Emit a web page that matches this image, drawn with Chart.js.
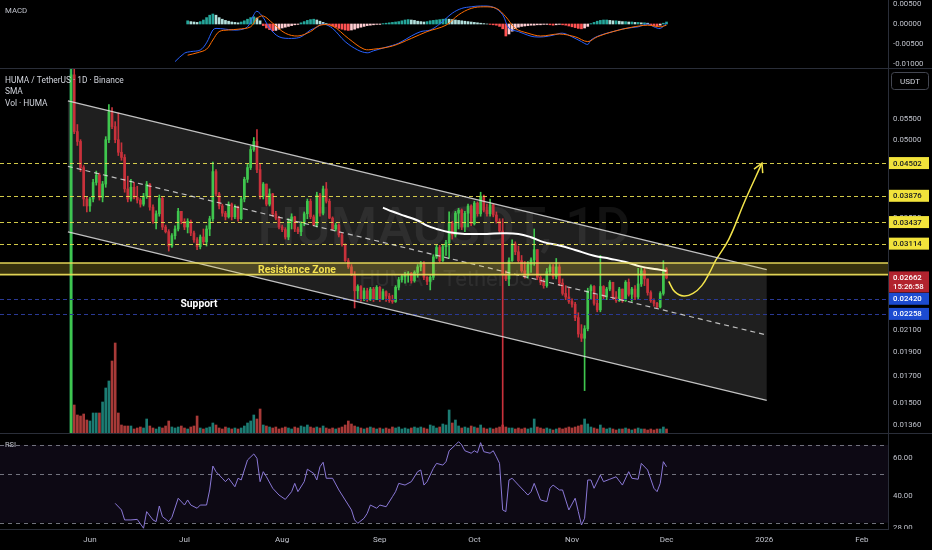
<!DOCTYPE html>
<html><head><meta charset="utf-8">
<script src="https://cdn.jsdelivr.net/npm/chart.js@4.4.1/dist/chart.umd.min.js"></script>
<style>
html,body{margin:0;padding:0;background:#000;width:932px;height:550px;overflow:hidden}
#wrap{position:relative;width:932px;height:550px;background:#000}
canvas{position:absolute;left:0}
.sep{position:absolute;left:0;width:932px;height:1px;background:#2a2e39}
</style></head><body>
<div id="wrap">
<canvas id="macd" style="top:0px" width="932" height="68"></canvas>
<div class="sep" style="top:68px"></div>
<canvas id="main" style="top:69px" width="932" height="364"></canvas>
<div class="sep" style="top:433px"></div>
<canvas id="rsi" style="top:434px" width="932" height="116"></canvas>
</div>
<script>
// ---------- DATA (day index 0 = 26 May 2025) ----------
const firstOpen = 0.0126;
const closes = [
0.0674,0.0520,0.0497,0.0441,0.0382,0.0370,0.0382,0.0412,0.0426,0.0385,
0.0409,0.0501,0.0569,0.0532,0.0501,0.0473,0.0462,0.0400,0.0382,0.0403,
0.0385,0.0380,0.0373,0.0387,0.0409,0.0368,0.0345,0.0357,0.0383,0.0336,
0.0329,0.0308,0.0323,0.0333,0.0361,0.0345,0.0336,0.0345,0.0327,0.0317,
0.0307,0.0321,0.0314,0.0333,0.0349,0.0433,0.0391,0.0370,0.0358,0.0352,
0.0373,0.0352,0.0368,0.0349,0.0382,0.0418,0.0441,0.0479,0.0497,0.0437,
0.0387,0.0409,0.0373,0.0391,0.0357,0.0350,0.0336,0.0332,0.0321,0.0345,
0.0352,0.0333,0.0329,0.0341,0.0357,0.0378,0.0352,0.0339,0.0389,0.0358,
0.0400,0.0378,0.0350,0.0333,0.0339,0.0324,0.0310,0.0288,0.0280,0.0270,
0.0251,0.0256,0.0242,0.0251,0.0241,0.0253,0.0241,0.0255,0.0242,0.0250,
0.0245,0.0240,0.0239,0.0255,0.0264,0.0268,0.0270,0.0272,0.0263,0.0273,
0.0280,0.0284,0.0267,0.0262,0.0267,0.0293,0.0306,0.0288,0.0307,0.0313,
0.0342,0.0324,0.0358,0.0363,0.0336,0.0358,0.0370,0.0341,0.0375,0.0357,
0.0387,0.0363,0.0357,0.0372,0.0355,0.0345,0.0330,0.0270,0.0265,0.0288,
0.0311,0.0300,0.0288,0.0275,0.0269,0.0283,0.0289,0.0303,0.0267,0.0261,
0.0257,0.0274,0.0280,0.0268,0.0280,0.0260,0.0248,0.0244,0.0239,0.0236,
0.0222,0.0206,0.0202,0.0211,0.0251,0.0256,0.0237,0.0230,0.0256,0.0244,
0.0253,0.0261,0.0244,0.0240,0.0253,0.0240,0.0261,0.0247,0.0253,0.0244,
0.0259,0.0275,0.0265,0.0249,0.0240,0.0237,0.0233,0.0248,0.0277,0.02662];
const highs = [
0.0850,0.0700,0.0537,0.0501,0.0445,0.0385,0.0385,0.0418,0.0434,0.0430,
0.0414,0.0508,0.0588,0.0580,0.0544,0.0566,0.0494,0.0468,0.0424,0.0418,
0.0412,0.0405,0.0383,0.0392,0.0414,0.0410,0.0372,0.0362,0.0389,0.0385,
0.0339,0.0332,0.0326,0.0338,0.0366,0.0361,0.0349,0.0349,0.0347,0.0330,
0.0320,0.0324,0.0333,0.0338,0.0353,0.0452,0.0437,0.0394,0.0373,0.0361,
0.0377,0.0375,0.0372,0.0370,0.0385,0.0422,0.0448,0.0486,0.0506,0.0525,
0.0448,0.0412,0.0409,0.0400,0.0392,0.0361,0.0353,0.0339,0.0335,0.0349,
0.0357,0.0353,0.0336,0.0344,0.0360,0.0382,0.0382,0.0355,0.0394,0.0392,
0.0405,0.0412,0.0382,0.0352,0.0342,0.0341,0.0327,0.0311,0.0291,0.0283,
0.0274,0.0258,0.0257,0.0254,0.0254,0.0255,0.0255,0.0257,0.0256,0.0253,
0.0251,0.0248,0.0246,0.0257,0.0267,0.0270,0.0273,0.0274,0.0273,0.0275,
0.0283,0.0287,0.0287,0.0268,0.0269,0.0296,0.0309,0.0309,0.0310,0.0316,
0.0360,0.0345,0.0361,0.0366,0.0365,0.0361,0.0373,0.0372,0.0378,0.0377,
0.0394,0.0389,0.0373,0.0382,0.0373,0.0360,0.0349,0.0349,0.0275,0.0292,
0.0317,0.0314,0.0308,0.0295,0.0287,0.0287,0.0292,0.0333,0.0303,0.0269,
0.0265,0.0278,0.0283,0.0283,0.0291,0.0283,0.0265,0.0257,0.0254,0.0242,
0.0238,0.0227,0.0215,0.0214,0.0254,0.0258,0.0257,0.0246,0.0295,0.0257,
0.0255,0.0263,0.0261,0.0250,0.0255,0.0253,0.0263,0.0265,0.0255,0.0257,
0.0278,0.0279,0.0279,0.0265,0.0251,0.0242,0.0238,0.0250,0.0288,0.0279];
const lows = [
0.0110,0.0515,0.0488,0.0433,0.0370,0.0360,0.0361,0.0377,0.0407,0.0380,
0.0377,0.0403,0.0494,0.0527,0.0494,0.0466,0.0456,0.0394,0.0377,0.0378,
0.0382,0.0375,0.0368,0.0370,0.0383,0.0363,0.0342,0.0333,0.0353,0.0332,
0.0327,0.0301,0.0306,0.0318,0.0330,0.0341,0.0332,0.0327,0.0323,0.0313,
0.0303,0.0304,0.0311,0.0308,0.0323,0.0345,0.0387,0.0365,0.0353,0.0347,
0.0350,0.0347,0.0349,0.0345,0.0347,0.0377,0.0412,0.0437,0.0475,0.0431,
0.0382,0.0382,0.0370,0.0370,0.0353,0.0347,0.0333,0.0329,0.0318,0.0317,
0.0333,0.0329,0.0326,0.0323,0.0338,0.0349,0.0349,0.0338,0.0336,0.0353,
0.0355,0.0375,0.0349,0.0332,0.0330,0.0321,0.0308,0.0287,0.0278,0.0269,
0.0232,0.0242,0.0239,0.0240,0.0239,0.0240,0.0239,0.0241,0.0239,0.0241,
0.0239,0.0238,0.0237,0.0238,0.0252,0.0261,0.0260,0.0261,0.0260,0.0261,
0.0267,0.0275,0.0264,0.0258,0.0252,0.0264,0.0291,0.0286,0.0287,0.0295,
0.0291,0.0318,0.0321,0.0333,0.0332,0.0329,0.0336,0.0338,0.0339,0.0353,
0.0353,0.0360,0.0353,0.0353,0.0352,0.0342,0.0327,0.0110,0.0263,0.0257,
0.0287,0.0296,0.0286,0.0273,0.0266,0.0266,0.0273,0.0282,0.0264,0.0258,
0.0254,0.0255,0.0270,0.0265,0.0265,0.0257,0.0246,0.0241,0.0237,0.0233,
0.0219,0.0203,0.0199,0.0159,0.0209,0.0242,0.0235,0.0228,0.0228,0.0241,
0.0241,0.0251,0.0241,0.0238,0.0239,0.0238,0.0239,0.0245,0.0239,0.0241,
0.0242,0.0256,0.0257,0.0246,0.0238,0.0234,0.0232,0.0232,0.0246,0.0265];
// volume, millions of HUMA
const volumes = [
400,28,18,17,19,13,12,20,20,20, 31,45,52,72,90,20,8,7,7,7,
4,5,6,5,14,7,5,4,6,5, 7,12,6,5,6,7,5,4,6,7,
17,5,4,5,6,10,8,5,4,6, 5,4,5,4,5,7,10,12,18,14,
24,8,7,6,5,6,4,5,6,5, 4,6,5,7,6,8,6,5,6,5,
7,5,4,5,4,5,6,8,12,9, 7,6,5,4,5,6,5,4,5,4,
5,4,6,5,6,4,5,4,5,6, 5,6,5,4,8,7,5,6,9,8,
23,10,13,7,5,6,5,7,6,5, 8,5,4,5,4,5,6,8,6,5,
5,4,5,4,5,4,5,14,6,5, 4,5,4,3,4,5,4,5,6,5,
6,7,8,14,9,6,5,4,8,5, 4,5,4,3,4,4,5,4,3,4,
5,4,4,3,4,3,4,4,6,4];
// SMA
const smaDays = [99,102,106,110,113,116,120,125,132,137,142,146,150,155,160,166,171,176,181,186,189];
const smaVals = [0.03673,0.03607,0.03534,0.03462,0.03382,0.03331,0.03281,0.03256,0.03256,0.03266,0.03256,0.03207,0.03136,0.03088,0.03025,0.02947,0.02907,0.02864,0.02803,0.02769,0.02749];
// MACD
const macdDays = [33,36,38,41,43,45,46,49,53,56,58,59,61,63,66,70,73,76,78,80,83,87,91,94,96,100,104,108,111,114,117,121,124,127,130,134,137,139,142,145,147,150,153,156,159,162,164,165,168,172,176,180,183,185,187,189];
const macdVals = [-0.0094,-0.0073,-0.0069,-0.0065,-0.0047,-0.0015,-0.0011,-0.0013,-0.0015,-0.0007,0.0023,0.0032,0.0016,-0.0010,-0.0032,-0.0036,-0.0032,-0.0015,-0.0008,0.0000,-0.0011,-0.0044,-0.0065,-0.0072,-0.0067,-0.0058,-0.0048,-0.0030,-0.0019,-0.0015,0.0000,0.0027,0.0039,0.0043,0.0045,0.0042,0.0023,-0.0011,-0.0019,-0.0028,-0.0032,-0.0032,-0.0028,-0.0023,-0.0032,-0.0044,-0.0051,-0.0040,-0.0028,-0.0019,-0.0011,-0.0007,0.0000,-0.0007,-0.0011,0.0002];
const signalDays = [37,40,43,45,47,50,53,57,59,61,64,68,72,76,79,83,88,93,96,102,108,113,119,123,127,131,135,138,141,145,149,155,160,164,167,172,178,183,187,189];
const signalVals = [-0.0078,-0.0072,-0.0063,-0.0040,-0.0019,-0.0015,-0.0013,-0.0007,0.0014,0.0020,0.0002,-0.0023,-0.0030,-0.0019,-0.0003,-0.0005,-0.0036,-0.0063,-0.0063,-0.0055,-0.0036,-0.0019,-0.0003,0.0023,0.0039,0.0043,0.0039,0.0018,-0.0011,-0.0023,-0.0030,-0.0025,-0.0032,-0.0044,-0.0032,-0.0019,-0.0008,-0.0003,-0.0007,-0.0003];
const histStart = 37;
const histVals = [
0.0008,0.0006,0.0005,0.0004,0.0006, 0.0010,0.0016,0.0022,0.0025,0.0022,
0.0016,0.0012,0.0009,0.0007,0.0005,0.0004,0.0003, 0.0005,0.0008,0.0012,0.0016,0.0018,
0.0015,0.0008, -0.0004,-0.0010,-0.0014,-0.0017,-0.0016,-0.0013,-0.0010,
-0.0008,-0.0006,-0.0004,-0.0002,-0.0001, 0.0003,0.0006,0.0009,0.0011,0.0012,0.0010,0.0007,0.0004,
0.0001, -0.0002,-0.0005,-0.0008,-0.0011,-0.0013,-0.0015,-0.0016,-0.0015,-0.0013,-0.0010,
-0.0008,-0.0006,-0.0004,-0.0003,-0.0002,-0.0001,-0.0001,0.0001,
0.0002,0.0003,0.0004,0.0005,0.0006,0.0008,0.0010,0.0011,0.0010,0.0009,0.0007,0.0006,0.0005,0.0006,0.0008,0.0009,0.0010,0.0011,
0.0012,0.0013,0.0012,0.0011,0.0010,0.0009,
0.0008,0.0007,0.0006,0.0005,0.0004,0.0003,0.0002,0.0001,0.0000,-0.0001,-0.0002,-0.0003,
-0.0006,-0.0012,-0.0030,-0.0025,-0.0018,
-0.0012,-0.0008,-0.0006,-0.0005,-0.0004,-0.0003,-0.0003,-0.0002,-0.0002,-0.0001,-0.0001,-0.0002,-0.0003,-0.0002,-0.0001,-0.0002,-0.0003,
-0.0005,-0.0007,-0.0009,-0.0011,-0.0012,-0.0010,-0.0006,
0.0001,0.0004,0.0007,0.0009,0.0010,0.0010,0.0009,0.0008,0.0008,0.0007,0.0006,0.0006,0.0005,0.0005,0.0004,0.0004,0.0003,0.0003,0.0002,
-0.0002,-0.0004,-0.0005,-0.0003, 0.0002,0.0005];
// RSI
const rsiDays = [14,16,17,19,21,23,24,26,27,28,29,31,32,34,36,37,38,40,41,43,44,45,46,48,49,50,52,53,54,56,58,59,60,61,62,64,66,68,70,71,72,74,75,77,78,79,80,81,83,85,87,89,90,91,93,94,95,97,98,100,102,103,104,106,108,110,111,112,113,115,116,118,119,120,122,123,124,125,127,128,129,130,131,133,134,135,136,137,138,139,140,142,144,145,146,147,149,151,152,153,155,156,157,158,160,161,162,163,164,165,166,168,169,171,173,175,177,178,180,181,183,185,186,187,188,189];
const rsiVals = [36.1,32.6,27.3,27.3,27.6,22.9,31.7,27.3,26.4,34.7,29.0,26.4,28.7,38.8,35.2,37.9,35.2,33.5,35.2,35.2,43.2,55.9,52.9,49.4,47.6,49.4,44.9,49.4,48.5,59.1,62.3,60.0,47.6,52.9,50.2,44.1,40.5,38.2,42.3,46.7,42.3,47.6,54.2,52.0,48.5,55.5,57.9,49.4,49.4,43.2,37.9,32.6,27.3,25.5,28.2,30.8,35.2,33.5,35.2,34.3,39.6,42.3,46.7,45.8,47.6,52.9,53.8,45.8,47.6,54.7,57.3,56.4,58.2,64.0,67.1,68.8,67.1,64.0,62.7,64.0,63.0,68.3,63.5,62.7,64.0,60.8,57.3,32.6,31.7,48.5,49.4,45.8,42.3,40.5,42.3,46.7,37.9,37.0,44.1,45.8,43.2,43.2,37.9,32.6,38.8,31.7,24.6,28.2,48.5,48.5,44.1,51.1,47.6,48.9,50.2,45.8,52.9,49.4,48.9,57.3,53.8,44.1,42.3,46.7,58.2,55.5];
const rsiBands = [67.1, 51.5, 25.8];
const rsiTicks = [60, 40];
const rsiBottomLabel = '28.00';
// axes / labels
const monthDays = [6,36,67,98,128,159,189,220,251];
const monthLabels = ['Jun','Jul','Aug','Sep','Oct','Nov','Dec','2026','Feb'];
const priceTicks = [0.055,0.05,0.035,0.021,0.019,0.017,0.015,0.0136];
const macdTicks = [0.005,0,-0.005,-0.01];
// drawings
const levelsYellow = [0.04502,0.03876,0.03437,0.03114];
const levelsBlue = [0.02420,0.02258];
const lastPrice = 0.02662, countdown = '15:26:58';
const zoneLow = 0.02703, zoneHigh = 0.02851;
const channelUpper = [[-1,0.05984],[220.8,0.02765]];
const channelLower = [[-1,0.03288],[220.8,0.01520]];
const arrowDays = [189.7,191.6,194.5,197.4,200.2,202.7,204.7,208.8,213.9,219.3];
const arrowVals = [0.0262,0.0250,0.0245,0.0248,0.0257,0.0273,0.0289,0.0318,0.0379,0.0450];
const resText = {text:'Resistance Zone', day:71.7, price:0.0276};
const supText = {text:'Support', day:40.6, price:0.0236};
const legendLines = ['HUMA / TetherUS · 1D · Binance','SMA','Vol · HUMA'];
const watermarkMain = 'HUMAUSDT, 1D', watermarkSub = 'HUMA / TetherUS';

// ---------- helpers ----------
const FAM = 'Roboto, "Noto Sans", sans-serif';
Chart.defaults.font.family = FAM;
Chart.defaults.color = '#b2b5be';
const GREEN = '#3fc64e', RED = '#c8313b';
const X_MIN = -22.56, X_MAX = 259.3;
const AXC = '#c0c3cc';
function fitFont(ctx, text, width, weight, base){
  ctx.font = weight+' '+base+'px '+FAM;
  const w = ctx.measureText(text).width || 1;
  const s = base*width/w;
  ctx.font = weight+' '+s.toFixed(2)+'px '+FAM;
  return s;
}
function xAxis(show){
  return {
    type:'linear', min:X_MIN, max:X_MAX, offset:false, display:show, position:'bottom',
    grid:{display:false, drawTicks:false},
    border:{display:show, color:'#2a2e39'},
    ticks:{autoSkip:false, maxRotation:0, minRotation:0, padding:6, font:{size:8}, color:AXC,
      callback:(v)=>{const k = monthDays.indexOf(v); return k>=0 ? monthLabels[k] : '';}},
    afterBuildTicks:(s)=>{ s.ticks = monthDays.map(v=>({value:v})); },
    afterFit:(s)=>{ s.height = show ? 21 : 0; s.paddingLeft = 0; s.paddingRight = 0; }
  };
}
function yAxis(extra, ticksArr, fmt){
  return Object.assign({
    position:'right',
    grid:{display:false, drawTicks:false},
    border:{display:true, color:'#2a2e39'},
    ticks:{padding:5, font:{size:7.8}, color:AXC, autoSkip:false, callback: fmt},
    afterBuildTicks:(s)=>{ s.ticks = ticksArr.map(v=>({value:v})); },
    afterFit:(s)=>{ s.width = 44; s.paddingTop = 0; s.paddingBottom = 0; }
  }, extra);
}
const baseOpts = {responsive:false, animation:false, events:[], layout:{padding:0},
  plugins:{legend:{display:false}, tooltip:{enabled:false}}};

const days = closes.map((_,i)=>i);
const opens = closes.map((c,i)=> i===0 ? firstOpen : closes[i-1]);
const upDay = closes.map((c,i)=> c >= opens[i]);

// ---------- MACD ----------
const histColors = histVals.map((v,k)=>{
  const p = k>0 ? histVals[k-1] : 0;
  if (v >= 0) return v >= p ? '#26a69a' : '#b2dfdb';
  return v < p ? '#ff5252' : '#ffcdd2';
});
new Chart(document.getElementById('macd'), {
  type:'bar',
  data:{datasets:[
    {type:'bar', data: histVals.map((v,k)=>({x:histStart+k, y:v})), backgroundColor: histColors, barThickness:2, grouped:false, order:3},
    {type:'line', data: macdDays.map((d,k)=>({x:d, y:macdVals[k]})), borderColor:'#2962ff', borderWidth:1, pointRadius:0, tension:0.35, order:2},
    {type:'line', data: signalDays.map((d,k)=>({x:d, y:signalVals[k]})), borderColor:'#ff6d00', borderWidth:1, pointRadius:0, tension:0.35, order:1}
  ]},
  options:Object.assign({}, baseOpts, {scales:{
    x: xAxis(false),
    y: yAxis({type:'linear', min:-0.011, max:0.006}, macdTicks, v=>Number(v).toFixed(5))
  }}),
  plugins:[{id:'macdLbl', afterDraw(chart){
    const ctx = chart.ctx; ctx.save();
    ctx.fillStyle = AXC; ctx.textBaseline='middle'; ctx.textAlign='left';
    ctx.font = '400 7.8px '+FAM; ctx.fillText('MACD', 5, 11);
    ctx.restore();
  }}]
});

// ---------- MAIN ----------
const mainDraw = {
  id:'mainDraw',
  beforeDatasetsDraw(chart){
    const {ctx, chartArea:a} = chart, x = chart.scales.x, y = chart.scales.y;
    ctx.save();
    ctx.beginPath(); ctx.rect(a.left, a.top, a.width, a.height); ctx.clip();
    const cx = (a.left+a.right)/2, cy = (a.top+a.bottom)/2;
    ctx.fillStyle = 'rgba(255,255,255,0.07)'; ctx.textAlign='center'; ctx.textBaseline='middle';
    fitFont(ctx, watermarkMain, 373, '500', 60); ctx.fillText(watermarkMain, cx, cy-19);
    fitFont(ctx, watermarkSub, 173, '400', 24); ctx.fillText(watermarkSub, cx+2, cy+30);
    const P = (p)=>[x.getPixelForValue(p[0]), y.getPixelForValue(p[1])];
    const u0=P(channelUpper[0]), u1=P(channelUpper[1]), l0=P(channelLower[0]), l1=P(channelLower[1]);
    ctx.fillStyle = 'rgba(255,255,255,0.12)';
    ctx.beginPath(); ctx.moveTo(u0[0],u0[1]); ctx.lineTo(u1[0],u1[1]); ctx.lineTo(l1[0],l1[1]); ctx.lineTo(l0[0],l0[1]); ctx.closePath(); ctx.fill();
    ctx.restore();
  },
  afterDatasetsDraw(chart){
    const {ctx, chartArea:a} = chart, x = chart.scales.x, y = chart.scales.y;
    const P = (p)=>[x.getPixelForValue(p[0]), y.getPixelForValue(p[1])];
    ctx.save();
    ctx.beginPath(); ctx.rect(a.left, a.top, a.width, a.height); ctx.clip();
    const hline = (v)=>{ const py = Math.round(y.getPixelForValue(v))+0.5; ctx.beginPath(); ctx.moveTo(a.left,py); ctx.lineTo(a.right,py); ctx.stroke(); };
    ctx.lineWidth = 1; ctx.setLineDash([4,3]);
    ctx.strokeStyle = 'rgba(232,222,80,0.9)'; levelsYellow.forEach(hline);
    ctx.strokeStyle = '#2a3994'; levelsBlue.forEach(hline);
    // channel
    const u0=P(channelUpper[0]), u1=P(channelUpper[1]), l0=P(channelLower[0]), l1=P(channelLower[1]);
    ctx.setLineDash([]); ctx.lineWidth = 1.3; ctx.strokeStyle = 'rgba(225,225,225,0.85)';
    ctx.beginPath(); ctx.moveTo(u0[0],u0[1]); ctx.lineTo(u1[0],u1[1]); ctx.stroke();
    ctx.beginPath(); ctx.moveTo(l0[0],l0[1]); ctx.lineTo(l1[0],l1[1]); ctx.stroke();
    ctx.setLineDash([5,4]); ctx.lineWidth = 1.2; ctx.strokeStyle = 'rgba(230,230,230,0.8)';
    ctx.beginPath(); ctx.moveTo(u0[0],(u0[1]+l0[1])/2); ctx.lineTo(u1[0],(u1[1]+l1[1])/2); ctx.stroke();
    // resistance zone
    const zt = y.getPixelForValue(zoneHigh), zb = y.getPixelForValue(zoneLow);
    ctx.setLineDash([]);
    ctx.fillStyle = 'rgba(245,220,60,0.22)'; ctx.fillRect(a.left, zt, a.width, zb-zt);
    ctx.strokeStyle = 'rgba(235,220,90,0.95)'; ctx.lineWidth = 1.6;
    ctx.beginPath(); ctx.moveTo(a.left,zt); ctx.lineTo(a.right,zt); ctx.moveTo(a.left,zb); ctx.lineTo(a.right,zb); ctx.stroke();
    // texts
    ctx.textAlign='center'; ctx.textBaseline='middle';
    ctx.fillStyle = '#f3e04f'; fitFont(ctx, resText.text, 78, '700', 10);
    ctx.fillText(resText.text, x.getPixelForValue(resText.day), y.getPixelForValue(resText.price));
    ctx.fillStyle = '#ffffff'; fitFont(ctx, supText.text, 37, '700', 10);
    ctx.fillText(supText.text, x.getPixelForValue(supText.day), y.getPixelForValue(supText.price));
    // arrow head
    const n = arrowDays.length;
    const tx = x.getPixelForValue(arrowDays[n-1]), ty = y.getPixelForValue(arrowVals[n-1]);
    const px = x.getPixelForValue(arrowDays[n-2]), py = y.getPixelForValue(arrowVals[n-2]);
    const ang = Math.atan2(ty-py, tx-px), L = 10, sp = 0.5;
    ctx.strokeStyle = '#f2e34b'; ctx.lineWidth = 1.5;
    ctx.beginPath();
    ctx.moveTo(tx - L*Math.cos(ang-sp), ty - L*Math.sin(ang-sp)); ctx.lineTo(tx,ty);
    ctx.lineTo(tx - L*Math.cos(ang+sp), ty - L*Math.sin(ang+sp)); ctx.stroke();
    ctx.restore();
    // legend
    ctx.save();
    ctx.fillStyle = '#d1d4dc'; ctx.textAlign='left'; ctx.textBaseline='middle';
    const fs = fitFont(ctx, legendLines[0], 119, '400', 9);
    ctx.fillText(legendLines[0], 5, 11.7);
    ctx.font = '400 '+fs.toFixed(2)+'px '+FAM;
    ctx.fillText(legendLines[1], 5, 23.3);
    ctx.fillText(legendLines[2], 5, 34.7);
    ctx.restore();
  },
  afterDraw(chart){
    const {ctx, chartArea:a} = chart, y = chart.scales.y;
    ctx.save();
    ctx.textAlign='left'; ctx.textBaseline='middle';
    const L = a.right + 1, W = 40;
    const tag = (v, bg, fg, weight)=>{
      const py = y.getPixelForValue(v);
      ctx.fillStyle = bg; ctx.fillRect(L, py-6, W, 12);
      ctx.fillStyle = fg; ctx.font = weight+' 7.8px '+FAM; ctx.fillText(v.toFixed(5), L+4, py+0.5);
    };
    levelsYellow.forEach(v=>tag(v, '#f2e33b', '#131722', '500'));
    levelsBlue.forEach(v=>tag(v, '#1c4bd1', '#ffffff', '500'));
    const lp = y.getPixelForValue(lastPrice);
    ctx.fillStyle = '#b2232e'; ctx.fillRect(L, lp-6.5, W, 21);
    ctx.fillStyle = '#ffffff'; ctx.font = '500 7.8px '+FAM;
    ctx.fillText(lastPrice.toFixed(5), L+4, lp+0.5);
    ctx.fillText(countdown, L+4, lp+9.5);
    // unit box
    ctx.strokeStyle = '#434651'; ctx.lineWidth = 1; ctx.fillStyle = '#000';
    ctx.beginPath(); ctx.roundRect(891.5, 3.5, 37, 17, 3); ctx.fill(); ctx.stroke();
    ctx.fillStyle = '#d1d4dc'; ctx.textAlign='center'; ctx.font='400 8px '+FAM;
    ctx.fillText('USDT', 910, 12.5);
    ctx.restore();
  }
};
new Chart(document.getElementById('main'), {
  type:'bar',
  data:{datasets:[
    {type:'bar', label:'Vol · HUMA', data: volumes.map((v,i)=>({x:i, y:v})), yAxisID:'yv',
     backgroundColor: upDay.map(u=> u ? 'rgba(38,166,154,0.75)' : 'rgba(239,83,80,0.7)'), barThickness:2, grouped:false, order:5},
    {type:'bar', label:'wick', data: days.map(i=>({x:i, y:[lows[i], highs[i]]})), yAxisID:'y',
     backgroundColor: upDay.map(u=> u ? GREEN : RED), barThickness:1, grouped:false, order:3},
    {type:'bar', label:'body', data: days.map(i=>({x:i, y:[opens[i], closes[i]]})), yAxisID:'y',
     backgroundColor: upDay.map(u=> u ? GREEN : RED), barThickness:2, minBarLength:1, grouped:false, order:2},
    {type:'line', label:'SMA', data: smaDays.map((d,k)=>({x:d, y:smaVals[k]})), yAxisID:'y',
     borderColor:'#ffffff', borderWidth:2, pointRadius:0, tension:0.4, order:1},
    {type:'line', label:'target', data: arrowDays.map((d,k)=>({x:d, y:arrowVals[k]})), yAxisID:'y',
     borderColor:'#f2e34b', borderWidth:1.5, pointRadius:0, tension:0.4, order:0}
  ]},
  options:Object.assign({}, baseOpts, {scales:{
    x: xAxis(false),
    y: yAxis({type:'logarithmic', min:0.013096, max:0.06923}, priceTicks, v=>Number(v).toFixed(5)),
    yv: {type:'linear', display:false, min:0, max:364}
  }}),
  plugins:[mainDraw]
});

// ---------- RSI ----------
new Chart(document.getElementById('rsi'), {
  type:'line',
  data:{datasets:[
    {data: rsiDays.map((d,k)=>({x:d, y:rsiVals[k]})), borderColor:'#8a78d6', borderWidth:1, pointRadius:0, tension:0}
  ]},
  options:Object.assign({}, baseOpts, {scales:{
    x: xAxis(true),
    y: yAxis({type:'linear', min:22.49, max:72.89}, rsiTicks, v=>Number(v).toFixed(2))
  }}),
  plugins:[{id:'rsiDraw',
    beforeDatasetsDraw(chart){
      const {ctx, chartArea:a} = chart, y = chart.scales.y;
      ctx.save();
      const t = y.getPixelForValue(rsiBands[0]), b = y.getPixelForValue(rsiBands[2]);
      ctx.fillStyle = 'rgba(126,87,194,0.1)'; ctx.fillRect(a.left, t, a.width, b-t);
      ctx.strokeStyle = 'rgba(140,143,154,0.8)'; ctx.lineWidth = 1; ctx.setLineDash([4,4]);
      rsiBands.forEach(v=>{ const py = Math.round(y.getPixelForValue(v))+0.5; ctx.beginPath(); ctx.moveTo(a.left,py); ctx.lineTo(a.right,py); ctx.stroke(); });
      ctx.setLineDash([]);
      ctx.fillStyle = AXC; ctx.font = '400 7.5px '+FAM; ctx.textBaseline='middle'; ctx.textAlign='left';
      ctx.fillText('RSI', 5, 11);
      ctx.restore();
    },
    afterDraw(chart){
      const {ctx, chartArea:a} = chart;
      ctx.save();
      ctx.beginPath(); ctx.rect(a.right+1, 0, 44, a.bottom); ctx.clip();
      ctx.fillStyle = AXC; ctx.font = '400 7.8px '+FAM; ctx.textBaseline='middle'; ctx.textAlign='left';
      ctx.fillText(rsiBottomLabel, a.right+5, a.bottom-0.5);
      ctx.restore();
    }
  }]
});
</script>
</body></html>
